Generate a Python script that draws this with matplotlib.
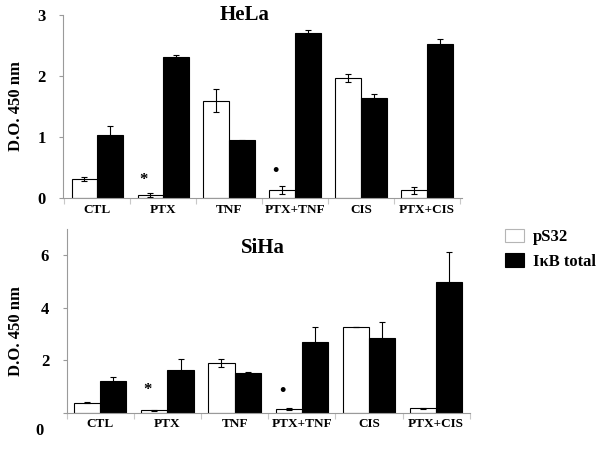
import matplotlib
matplotlib.use('Agg')
import matplotlib.pyplot as plt
import numpy as np

plt.rcParams['font.family'] = ['Liberation Serif', 'DejaVu Serif']
plt.rcParams['font.weight'] = 'bold'

categories = ['CTL', 'PTX', 'TNF', 'PTX+TNF', 'CIS', 'PTX+CIS']
series_names = ['pS32', 'I\u03baB total']

hela_ps32 = [0.32, 0.06, 1.60, 0.14, 1.97, 0.13]
hela_ps32_err = [0.03, 0.03, 0.19, 0.07, 0.06, 0.05]
hela_total = [1.04, 2.31, 0.95, 2.71, 1.64, 2.52]
hela_total_err = [0.15, 0.04, 0.01, 0.05, 0.07, 0.09]

siha_ps32 = [0.38, 0.10, 1.91, 0.13, 3.26, 0.17]
siha_ps32_err = [0.02, 0.02, 0.15, 0.03, 0.01, 0.02]
siha_total = [1.19, 1.63, 1.50, 2.71, 2.84, 5.00]
siha_total_err = [0.17, 0.42, 0.04, 0.55, 0.61, 1.15]

# significance marks: (group index, symbol, y)
hela_marks = [(1, '*', 0.30), (3, '\u2022', 0.44)]
siha_marks = [(1, '*', 0.87), (3, '\u2022', 0.80)]

AX_GREY = '#9a9a9a'


def draw_panel(ax, white, white_err, black, black_err, yticks, ylim, xlim,
               title, title_pos, marks):
    x = np.arange(len(categories))
    w = 0.39
    err_kw = dict(ecolor='black', elinewidth=0.8, capsize=2.2, capthick=0.8)
    ax.bar(x - w / 2, white, w, yerr=white_err, color='white', edgecolor='black',
           linewidth=0.8, error_kw=err_kw, label=series_names[0], zorder=2)
    ax.bar(x + w / 2, black, w, yerr=black_err, color='black', edgecolor='black',
           linewidth=0.8, error_kw=err_kw, label=series_names[1], zorder=2)
    ax.set_xlim(*xlim)
    ax.set_ylim(*ylim)
    ax.set_yticks(yticks)
    ax.set_xticks(np.arange(len(categories) + 1) - 0.5)
    ax.set_xticklabels([])
    ax.set_xticks(x, minor=True)
    ax.set_xticklabels(categories, minor=True, fontsize=9.5, fontweight='bold')
    ax.tick_params(axis='x', which='minor', length=0, pad=4)
    ax.tick_params(axis='x', which='major', length=4, color='#c8c8c8', width=0.8)
    ax.tick_params(axis='y', length=3, color=AX_GREY, labelsize=12, pad=9.5)
    for lab in ax.get_yticklabels():
        lab.set_fontweight('bold')
    for side in ('top', 'right'):
        ax.spines[side].set_visible(False)
    for side in ('left', 'bottom'):
        ax.spines[side].set_color(AX_GREY)
        ax.spines[side].set_linewidth(0.8)
    ax.text(title_pos[0], title_pos[1], title, transform=ax.transAxes,
            ha='center', va='center', fontsize=15, fontweight='bold')
    for gi, sym, yy in marks:
        ax.text(gi - w / 2 - 0.1, yy, sym, ha='center', va='center',
                fontsize=12 if sym == '*' else 13, fontweight='bold')


fig = plt.figure(figsize=(6, 4.5), dpi=100)

ax1 = fig.add_axes([0.105, 0.559, 0.665, 0.408])
draw_panel(ax1, hela_ps32, hela_ps32_err, hela_total, hela_total_err,
           [0, 1, 2, 3], (0, 3), (-0.52, 5.53), 'HeLa', (0.456, 1.0), hela_marks)

ax2 = fig.add_axes([0.111, 0.083, 0.672, 0.4076])
draw_panel(ax2, siha_ps32, siha_ps32_err, siha_total, siha_total_err,
           [0, 2, 4, 6], (0, 7.0), (-0.48, 5.5), 'SiHa', (0.487, 0.895), siha_marks)
# the zero label of the lower panel sits below the axis in the original
ax2.set_yticklabels(['', '2', '4', '6'])
ax2.annotate('0', xy=(0, 0), xycoords=('axes fraction', 'data'),
             xytext=(-16.5, -13), textcoords='offset points',
             ha='right', va='center', fontsize=12, fontweight='bold')

fig.text(0.027, 0.765, 'D.O. 450 nm', rotation=90, ha='center', va='center',
         fontsize=12, fontweight='bold')
fig.text(0.027, 0.265, 'D.O. 450 nm', rotation=90, ha='center', va='center',
         fontsize=12, fontweight='bold')

handles, labels = ax2.get_legend_handles_labels()
leg = fig.legend(handles, labels, loc='upper left', bbox_to_anchor=(0.842, 0.492),
                 frameon=False, handlelength=1.15, handleheight=0.85,
                 handletextpad=0.5, labelspacing=0.5, borderpad=0, borderaxespad=0,
                 prop={'weight': 'bold', 'size': 12})
leg.legend_handles[0].set_edgecolor('#b5b5b5')

fig.savefig('out.png', dpi=100)
